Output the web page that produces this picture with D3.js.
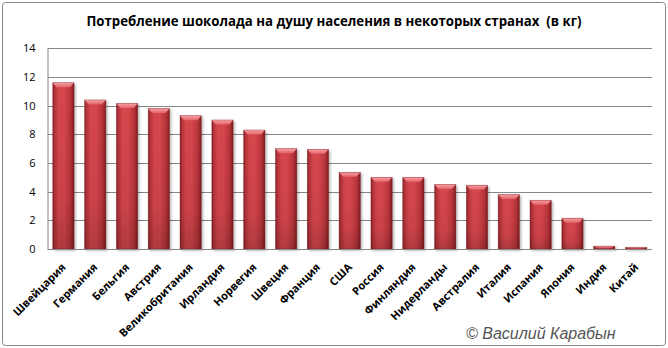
<!DOCTYPE html>
<html>
<head>
<meta charset="utf-8">
<script src="https://cdn.jsdelivr.net/npm/d3@7"></script>
<style>
  html, body { margin: 0; padding: 0; background: #fff; }
  svg { display: block; }
</style>
</head>
<body>
<svg id="chart" width="668" height="348"></svg>
<script>
// Chocolate consumption per capita, kg
const countries = ["Швейцария", "Германия", "Бельгия", "Австрия", "Великобритания",
  "Ирландия", "Норвегия", "Швеция", "Франция", "США", "Россия", "Финляндия",
  "Нидерланды", "Австралия", "Италия", "Испания", "Япония", "Индия", "Китай"];
const consumption = [11.6, 10.4, 10.15, 9.8, 9.3, 9.0, 8.3, 7.0, 6.95, 5.35, 5.0, 5.0,
  4.5, 4.45, 3.8, 3.4, 2.15, 0.2, 0.12];
const yTicks = [0, 2, 4, 6, 8, 10, 12, 14];
const titleText = "Потребление шоколада на душу населения в некоторых странах  (в кг)";
const creditText = "© Василий Карабын";

const svg = d3.select("#chart");
const W = 668, H = 348;
const plot = { left: 47.5, right: 652, top: 48.3, bottom: 249 };

const x = d3.scaleBand()
  .domain(countries)
  .range([plot.left, plot.right])
  .paddingInner(0.33)
  .paddingOuter(0.165);

const y = d3.scaleLinear()
  .domain([0, 14])
  .range([plot.bottom, plot.top]);

// gradients and shadow
const defs = svg.append("defs");
const gH = defs.append("linearGradient").attr("id", "barBody")
  .attr("x1", 0).attr("x2", 1).attr("y1", 0).attr("y2", 0);
[["0%", "#8a1e22"], ["9%", "#b3343a"], ["28%", "#d5464c"], ["55%", "#d6464c"],
 ["85%", "#b53339"], ["100%", "#7e1b1f"]]
  .forEach(([o, c]) => gH.append("stop").attr("offset", o).attr("stop-color", c));

const gV = defs.append("linearGradient").attr("id", "barShade")
  .attr("x1", 0).attr("x2", 0).attr("y1", 0).attr("y2", 1);
gV.append("stop").attr("offset", "0%").attr("stop-color", "#000").attr("stop-opacity", 0);
gV.append("stop").attr("offset", "70%").attr("stop-color", "#000").attr("stop-opacity", 0.05);
gV.append("stop").attr("offset", "100%").attr("stop-color", "#000").attr("stop-opacity", 0.18);

const gTop = defs.append("linearGradient").attr("id", "bevelTop")
  .attr("x1", 0).attr("x2", 0).attr("y1", 0).attr("y2", 1);
gTop.append("stop").attr("offset", "0%").attr("stop-color", "#f4a0a3");
gTop.append("stop").attr("offset", "100%").attr("stop-color", "#e4646a");

const shadow = defs.append("filter").attr("id", "barShadow")
  .attr("x", "-30%").attr("y", "-10%").attr("width", "160%").attr("height", "130%");
shadow.append("feDropShadow").attr("dx", 1.5).attr("dy", 1.5)
  .attr("stdDeviation", 1.3).attr("flood-color", "#000").attr("flood-opacity", 0.3);

// outer frame
svg.append("rect")
  .attr("x", 2.5).attr("y", 2.5).attr("width", W - 5).attr("height", H - 5)
  .attr("rx", 3).attr("fill", "#fff").attr("stroke", "#878787").attr("stroke-width", 1);

// title
const title = svg.append("text")
  .attr("x", 334).attr("y", 26)
  .attr("text-anchor", "middle")
  .style("white-space", "pre")
  .attr("font-family", "'Open Sans', sans-serif")
  .attr("font-weight", "bold")
  .attr("font-size", 13.5)
  .attr("fill", "#000")
  .text(titleText);
{
  const w = title.node().getComputedTextLength();
  const target = 495;
  if (Math.abs(w - target) > 4) {
    title.attr("textLength", target).attr("lengthAdjust", "spacingAndGlyphs");
  }
}

// gridlines
svg.append("g")
  .selectAll("line")
  .data(yTicks.filter(t => t > 0))
  .join("line")
  .attr("x1", plot.left).attr("x2", plot.right)
  .attr("y1", d => Math.round(y(d)) + 0.5).attr("y2", d => Math.round(y(d)) + 0.5)
  .attr("stroke", "#868686").attr("stroke-width", 1);

// y axis
const yAxis = svg.append("g")
  .attr("transform", `translate(${plot.left},0)`)
  .call(d3.axisLeft(y).tickValues(yTicks).tickSize(0).tickPadding(12).tickFormat(d3.format("d")));
yAxis.select(".domain").attr("stroke", "#868686");
yAxis.selectAll("text")
  .attr("font-family", "'Open Sans', sans-serif")
  .attr("font-size", 11)
  .attr("fill", "#000");

// bars
const bars = svg.append("g").attr("filter", "url(#barShadow)");
const bw = x.bandwidth();
countries.forEach((c, i) => {
  const v = consumption[i];
  const x0 = x(c), y0 = y(v), h = plot.bottom - y0;
  const g = bars.append("g");
  g.append("rect").attr("x", x0).attr("y", y0).attr("width", bw).attr("height", h)
    .attr("fill", "url(#barBody)");
  g.append("rect").attr("x", x0).attr("y", y0).attr("width", bw).attr("height", h)
    .attr("fill", "url(#barShade)");
  const b = Math.min(4.5, h * 0.6), s = Math.min(4, bw / 2);
  g.append("polygon")
    .attr("points", [[x0, y0], [x0 + bw, y0], [x0 + bw - s, y0 + b], [x0 + s, y0 + b]].map(p => p.join(",")).join(" "))
    .attr("fill", "url(#bevelTop)");
  g.append("rect").attr("x", x0).attr("y", y0).attr("width", bw).attr("height", h)
    .attr("fill", "none").attr("stroke", "#7a1a1e").attr("stroke-opacity", 0.5).attr("stroke-width", 0.6);
});

// x axis line
svg.append("line")
  .attr("x1", plot.left).attr("x2", plot.right)
  .attr("y1", plot.bottom + 0.5).attr("y2", plot.bottom + 0.5)
  .attr("stroke", "#868686");

// category labels
svg.append("g")
  .selectAll("text")
  .data(countries)
  .join("text")
  .attr("transform", d => `translate(${x(d) + bw / 2 + 3},${plot.bottom + 19}) rotate(-45)`)
  .attr("text-anchor", "end")
  .attr("font-family", "'Open Sans', sans-serif")
  .attr("font-weight", "bold")
  .attr("font-size", 11)
  .attr("fill", "#000")
  .text(d => d);

// credit
svg.append("text")
  .attr("x", 466).attr("y", 339)
  .attr("font-family", "'Liberation Sans', Arial, sans-serif")
  .attr("font-style", "italic")
  .attr("font-size", 16)
  .attr("fill", "#555")
  .text(creditText);
</script>
</body>
</html>
